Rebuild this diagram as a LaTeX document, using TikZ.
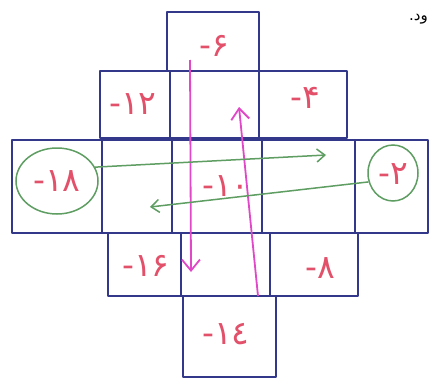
\documentclass[tikz,border=0pt]{standalone}
\usepackage{fontspec}
\usetikzlibrary{arrows.meta,shapes.geometric}
\newfontfamily\arabicfont[Script=Arabic]{DejaVu Sans}
\newfontfamily\digitfont{DejaVu Sans}
\TeXXeTstate=1
\definecolor{gridblue}{HTML}{34388A}
\definecolor{numred}{HTML}{E2506A}
\definecolor{arrmag}{HTML}{E048C8}
\definecolor{arrgreen}{HTML}{5E9E62}
\tikzset{
  cellline/.style={draw=gridblue, line width=1.7pt, line join=round},
  num/.style={text=numred, font=\digitfont\fontsize{33}{36}\selectfont, inner sep=0pt},
  magarrow/.style={draw=arrmag, line width=1.8pt, -{Straight Barb[length=11pt,width=18pt,line width=1.8pt]}},
  grnarrow/.style={draw=arrgreen, line width=1.5pt, -{Straight Barb[length=8pt,width=13pt,line width=1.5pt]}},
  ring/.style={draw=arrgreen, line width=1.5pt, ellipse}
}
\begin{document}
\begin{tikzpicture}[x=1pt,y=-1pt]
\useasboundingbox (0,0) rectangle (431,380);
\fill[white] (0,0) rectangle (431,380);
% grid
\draw[cellline] (167,12) rectangle (259,71);
\draw[cellline] (100,71) rectangle (170,138);
\draw[cellline] (170,71) rectangle (259,138);
\draw[cellline] (259,71) rectangle (347,138);
\draw[cellline] (12,140) rectangle (102,233);
\draw[cellline] (102,140) rectangle (172,233);
\draw[cellline] (172,140) rectangle (262,233);
\draw[cellline] (262,140) rectangle (355,233);
\draw[cellline] (355,140) rectangle (428,233);
\draw[cellline] (108,233) rectangle (181,296);
\draw[cellline] (181,233) rectangle (270,296);
\draw[cellline] (270,233) rectangle (358,296);
\draw[cellline] (183,296) rectangle (276,377);
% labels
\node[num] (n6) at (214,46) {-۶};
\node[num] (n12) at (133,104) {-۱۲};
\node[num] (n4) at (305,98) {-۴};
\node[num] (n18) at (57,181) {-۱۸};
\node[num] (n10) at (226,186) {-۱۰};
\node[num] (n2) at (393,174) {-۲};
\node[num] (n16) at (146,266) {-۱۶};
\node[num] (n8) at (320,268) {-۸};
\node[num] (n14) at (226,334) {-۱٤};
% rings
\node[ring, minimum width=82pt, minimum height=66pt] (r18) at (57,181) {};
\node[ring, minimum width=50pt, minimum height=56pt] (r2) at (393,173) {};
% arrows
\coordinate (dS) at (190,60);
\coordinate (dE) at (191,272);
\coordinate (uS) at (258,296);
\coordinate (uE) at (239,107);
\coordinate (gE1) at (326,155);
\coordinate (gE2) at (150,207);
\draw[magarrow] (dS) -- (dE);
\draw[magarrow] (uS) -- (uE);
\draw[grnarrow] (r18.20) -- (gE1);
\draw[grnarrow] (r2.200) -- (gE2);
% caption text (cropped word ending in the reference)
\node[anchor=east, inner sep=0pt, font=\arabicfont\fontsize{15}{18}\selectfont] (cap) at (428,19) {\beginR ود.\endR};
\end{tikzpicture}
\end{document}
